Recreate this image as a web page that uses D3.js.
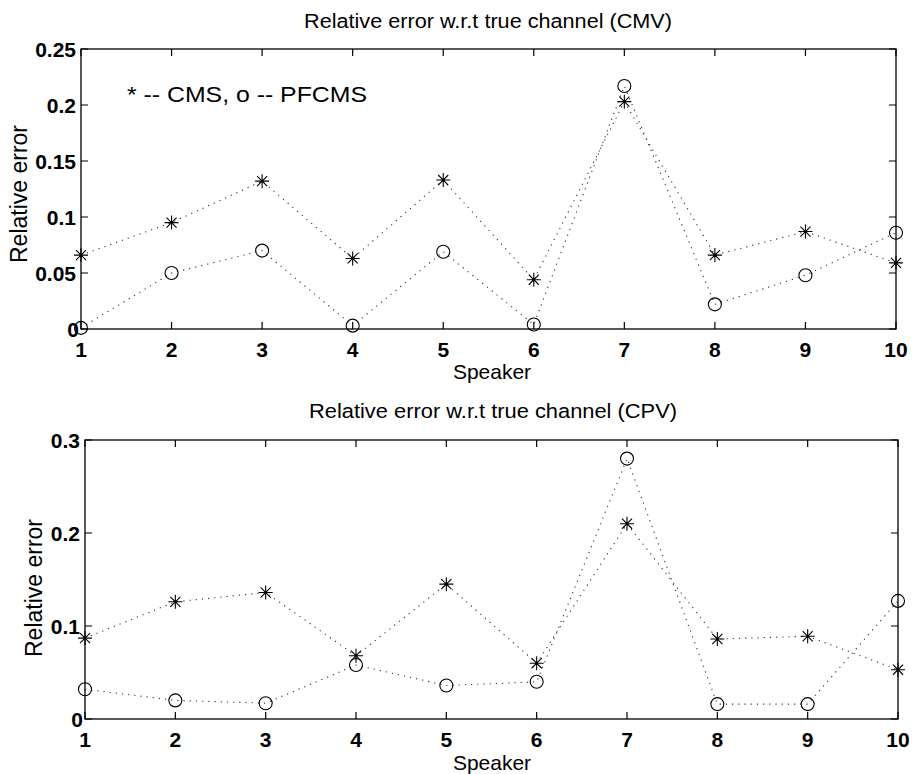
<!doctype html>
<html lang="en">
<head>
    <meta charset="UTF-8">
    <title>Relative error w.r.t true channel</title>
    <script src="https://d3js.org/d3.v7.min.js"></script>
    <style>
        body { margin: 0; background: #fff; }
        svg { font-family: "Liberation Sans", Arial, sans-serif; }
    </style>
</head>
<body>
<script>
    var width = 913;
    var height = 774;

    var speakers = [1, 2, 3, 4, 5, 6, 7, 8, 9, 10];

    // top panel (CMV)
    var cmvCMS   = [0.066, 0.095, 0.132, 0.063, 0.133, 0.044, 0.203, 0.066, 0.087, 0.059];
    var cmvPFCMS = [0.001, 0.050, 0.070, 0.003, 0.069, 0.004, 0.217, 0.022, 0.048, 0.086];
    var cmvTicks = [0, 0.05, 0.1, 0.15, 0.2, 0.25];

    // bottom panel (CPV)
    var cpvCMS   = [0.087, 0.126, 0.136, 0.068, 0.145, 0.060, 0.210, 0.086, 0.089, 0.053];
    var cpvPFCMS = [0.032, 0.020, 0.017, 0.058, 0.036, 0.040, 0.280, 0.016, 0.016, 0.127];
    var cpvTicks = [0, 0.1, 0.2, 0.3];

    var svg = d3.select('body').append('svg')
        .attr('width', width)
        .attr('height', height);

    function panel(opt) {
        var x = d3.scaleLinear().domain([1, 10]).range([opt.left, opt.right]);
        var y = d3.scaleLinear().domain([0, opt.ymax]).range([opt.bottom, opt.top]);
        var g = svg.append('g');

        // box
        g.append('rect')
            .attr('x', opt.left).attr('y', opt.top)
            .attr('width', opt.right - opt.left)
            .attr('height', opt.bottom - opt.top)
            .attr('fill', 'none').attr('stroke', '#000').attr('stroke-width', 1.3);

        var tl = 7;
        // x ticks (bottom and top, pointing inward)
        g.selectAll('.xt').data(speakers).enter().append('path')
            .attr('d', function(d){ return 'M' + x(d) + ',' + opt.bottom + 'v' + (-tl) +
                'M' + x(d) + ',' + opt.top + 'v' + tl; })
            .attr('stroke', '#000').attr('stroke-width', 1.2);
        g.selectAll('.xl').data(speakers).enter().append('text')
            .attr('x', function(d){ return x(d); })
            .attr('y', opt.bottom + 28)
            .attr('text-anchor', 'middle')
            .attr('font-size', 21).attr('font-weight', 'bold')
            .text(function(d){ return d; });

        // y ticks (left and right)
        g.selectAll('.yt').data(opt.ticks).enter().append('path')
            .attr('d', function(d){ return 'M' + opt.left + ',' + y(d) + 'h' + tl +
                'M' + opt.right + ',' + y(d) + 'h' + (-tl); })
            .attr('stroke', '#000').attr('stroke-width', 1.2);
        g.selectAll('.yl').data(opt.ticks).enter().append('text')
            .attr('x', function(d){ return d === 0 ? opt.left - 2 : opt.left - 5; })
            .attr('y', function(d){ return y(d) + 8; })
            .attr('text-anchor', 'end')
            .attr('font-size', 21).attr('font-weight', 'bold')
            .text(function(d){ return d; });

        // titles
        g.append('text')
            .attr('x', opt.titleX)
            .attr('y', opt.titleY)
            .attr('text-anchor', 'middle')
            .attr('font-size', 20)
            .attr('textLength', 368)
            .attr('lengthAdjust', 'spacingAndGlyphs')
            .text(opt.title);
        g.append('text')
            .attr('x', 492)
            .attr('y', opt.xlabY)
            .attr('text-anchor', 'middle')
            .attr('font-size', 21)
            .text('Speaker');
        g.append('text')
            .attr('transform', 'translate(' + opt.ylabX + ',' + opt.ylabY + ') rotate(-90)')
            .attr('text-anchor', 'middle')
            .attr('font-size', 23)
            .text('Relative error');

        var line = d3.line()
            .x(function(d, i){ return x(speakers[i]); })
            .y(function(d){ return y(d); });

        [opt.cms, opt.pf].forEach(function(s){
            g.append('path')
                .datum(s)
                .attr('d', line)
                .attr('fill', 'none')
                .attr('stroke', '#333')
                .attr('stroke-width', 1.1)
                .attr('stroke-dasharray', '1.2,5');
        });

        // circles
        g.selectAll('.pf').data(opt.pf).enter().append('circle')
            .attr('cx', function(d, i){ return x(speakers[i]); })
            .attr('cy', function(d){ return y(d); })
            .attr('r', 6.5)
            .attr('fill', 'none').attr('stroke', '#000').attr('stroke-width', 1.1);

        // asterisks
        var s = 7;
        g.selectAll('.cms').data(opt.cms).enter().append('path')
            .attr('transform', function(d, i){ return 'translate(' + x(speakers[i]) + ',' + y(d) + ')'; })
            .attr('d', 'M' + (-s) + ',0H' + s + 'M0,' + (-s) + 'V' + s +
                'M' + (-s * 0.72) + ',' + (-s * 0.72) + 'L' + (s * 0.72) + ',' + (s * 0.72) +
                'M' + (-s * 0.72) + ',' + (s * 0.72) + 'L' + (s * 0.72) + ',' + (-s * 0.72))
            .attr('fill', 'none').attr('stroke', '#000').attr('stroke-width', 1.1);

        return g;
    }

    var cmvPanel = panel({
        left: 81, right: 896, top: 49, bottom: 329, ymax: 0.25,
        ticks: cmvTicks, cms: cmvCMS, pf: cmvPFCMS,
        ylabX: 27, ylabY: 194, titleX: 488, titleY: 28, xlabY: 379,
        title: 'Relative error w.r.t true channel (CMV)'
    });

    cmvPanel.append('text')
        .attr('x', 127).attr('y', 102)
        .attr('font-size', 22)
        .attr('textLength', 240)
        .attr('lengthAdjust', 'spacingAndGlyphs')
        .text('* -- CMS, o -- PFCMS');

    panel({
        left: 85, right: 898, top: 440, bottom: 719, ymax: 0.3,
        ticks: cpvTicks, cms: cpvCMS, pf: cpvPFCMS,
        ylabX: 42, ylabY: 588, titleX: 493, titleY: 418, xlabY: 770,
        title: 'Relative error w.r.t true channel (CPV)'
    });
</script>
</body>
</html>
